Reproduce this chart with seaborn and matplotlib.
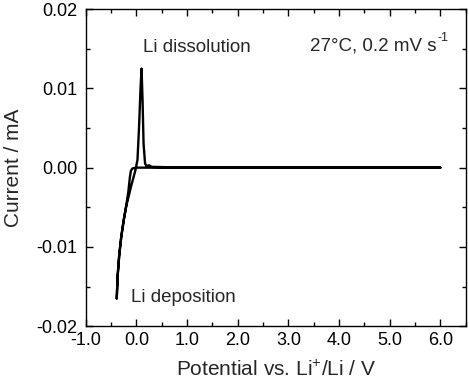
import numpy as np
import pandas as pd
import matplotlib
matplotlib.use("Agg")
import matplotlib.pyplot as plt
import seaborn as sns
from matplotlib.ticker import MultipleLocator, FormatStrFormatter

# cathodic sweep (6.0 V -> -0.39 V)
v_cath = [6.0, 2.0, 0.5, 0.0, -0.08, -0.11, -0.13, -0.16, -0.20, -0.25, -0.30, -0.34, -0.37, -0.39]
i_cath = [0.0, 0.0, 0.0, 0.0, -0.0001, -0.0004, -0.0012, -0.0030, -0.0047, -0.0065, -0.0087, -0.0110, -0.0135, -0.0165]

# anodic sweep (-0.39 V -> 6.0 V)
v_anod = [-0.39, -0.37, -0.34, -0.30, -0.25, -0.20, -0.10, -0.02, 0.02, 0.05, 0.08, 0.10, 0.12, 0.14, 0.17, 0.20, 0.25, 0.30, 1.0, 3.0, 6.0]
i_anod = [-0.0165, -0.0135, -0.0110, -0.0087, -0.0066, -0.0048, -0.0022, -0.0003, 0.0010, 0.0050, 0.0100, 0.0125, 0.0085, 0.0030, 0.0005, 0.0002, 0.0003, 0.0001, 0.0, 0.0, 0.0]

df = pd.DataFrame({
    "V": v_cath + v_anod,
    "I": i_cath + i_anod,
})

sns.set_theme(style="ticks")
plt.rcParams["font.family"] = ["Liberation Sans", "DejaVu Sans"]
plt.rcParams["axes.unicode_minus"] = False
plt.rcParams["mathtext.fontset"] = "custom"
plt.rcParams["mathtext.rm"] = "Liberation Sans"
plt.rcParams["mathtext.it"] = "Liberation Sans:italic"

fig = plt.figure(figsize=(4.69, 3.81), dpi=100)
ax = fig.add_axes([0.183, 0.144, 0.810, 0.832])

sns.lineplot(data=df, x="V", y="I", sort=False, estimator=None, color="black", lw=1.7, ax=ax)

ax.set_xlim(-1.0, 6.5)
ax.set_ylim(-0.02, 0.02)
ax.xaxis.set_major_locator(MultipleLocator(1.0))
ax.xaxis.set_minor_locator(MultipleLocator(0.5))
ax.yaxis.set_major_locator(MultipleLocator(0.01))
ax.yaxis.set_minor_locator(MultipleLocator(0.005))
ax.xaxis.set_major_formatter(FormatStrFormatter("%.1f"))
ax.yaxis.set_major_formatter(FormatStrFormatter("%.2f"))
ax.tick_params(which="both", direction="in", top=True, right=True, width=1.0, labelsize=13, colors="black")
ax.tick_params(which="major", length=5)
ax.tick_params(which="minor", length=3)
ax.tick_params(axis="y", pad=6)
ax.tick_params(axis="x", pad=4)
for s in ax.spines.values():
    s.set_linewidth(1.0)
    s.set_color("black")

ax.set_xlabel("Potential vs. Li$^{+}$/Li / V", fontsize=15, labelpad=8)
ax.set_ylabel("Current / mA", fontsize=15, labelpad=10)

ax.text(1.2, 0.0151, "Li dissolution", fontsize=13.5, ha="center", va="center")
ax.text(0.92, -0.0164, "Li deposition", fontsize=13.5, ha="center", va="center")
t = ax.text(3.43, 0.0154, "27°C, 0.2 mV s", fontsize=13.5, ha="left", va="center")

# superscript "-1" with a plain hyphen, placed just after the main text
fig.canvas.draw()
bb = t.get_window_extent().transformed(ax.transData.inverted())
ax.text(bb.x1 + 0.02, bb.y1 + 0.0006, "-1", fontsize=9, ha="left", va="top")

fig.savefig("out.png", dpi=100)
